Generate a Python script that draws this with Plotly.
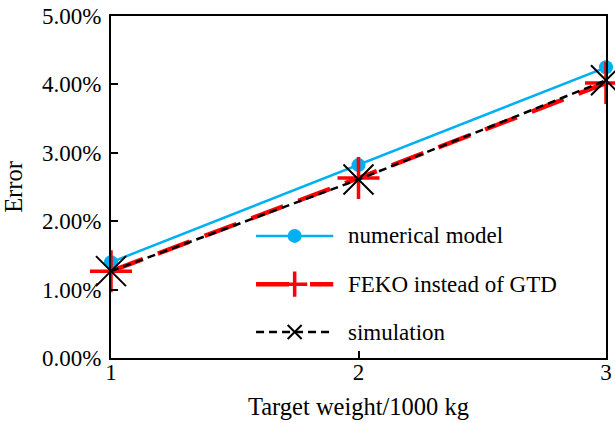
import plotly.graph_objects as go

weights = [1, 2, 3]
numerical_model = [1.40, 2.82, 4.25]
feko = [1.27, 2.63, 4.02]
simulation = [1.27, 2.61, 4.06]
y_ticks = [0, 1, 2, 3, 4, 5]
y_ticktext = ["0.00%", "1.00%", "2.00%", "3.00%", "4.00%", "5.00%"]
series_names = ["numerical model", "FEKO instead of GTD", "simulation"]

FONT = "Liberation Serif, Times New Roman, serif"
FS_TICK = 23
FS_TITLE = 24.5
FS_LEG = 23
CYAN = "#00B0F0"
RED = "#FF0000"
BLACK = "#000000"

fig = go.Figure()

fig.add_trace(go.Scatter(x=weights, y=numerical_model, mode="lines+markers",
                         line=dict(color=CYAN, width=2.5),
                         marker=dict(symbol="circle", size=14, color=CYAN),
                         cliponaxis=False, showlegend=False, name=series_names[0]))
fig.add_trace(go.Scatter(x=weights, y=feko, mode="lines+markers",
                         line=dict(color=RED, width=4.5, dash="34px,16px"),
                         marker=dict(symbol="cross-thin", size=30, line=dict(color=RED, width=3.5)),
                         cliponaxis=False, showlegend=False, name=series_names[1]))
fig.add_trace(go.Scatter(x=weights, y=simulation, mode="lines+markers",
                         line=dict(color=BLACK, width=2.5, dash="8px,5px"),
                         marker=dict(symbol="x-thin", size=30, line=dict(color=BLACK, width=2)),
                         cliponaxis=False, showlegend=False, name=series_names[2]))

# Manual legend drawn on a hidden overlay axis (0..1 over the plot area)
leg_rows = [0.357, 0.216, 0.076]
leg_x0, leg_xm, leg_x1 = 0.293, 0.371, 0.449
leg_styles = [
    (dict(color=CYAN, width=2.5), dict(symbol="circle", size=14, color=CYAN)),
    (dict(color=RED, width=4.5, dash="33px,21px"), dict(symbol="cross-thin", size=18, line=dict(color=RED, width=3.5))),
    (dict(color=BLACK, width=2.5, dash="8px,5px"), dict(symbol="x-thin", size=14, line=dict(color=BLACK, width=2))),
]
for name, yrow, (ln, mk) in zip(series_names, leg_rows, leg_styles):
    fig.add_trace(go.Scatter(x=[leg_x0, leg_x1], y=[yrow, yrow], mode="lines", line=ln,
                             xaxis="x2", yaxis="y2", showlegend=False, hoverinfo="skip"))
    fig.add_trace(go.Scatter(x=[leg_xm], y=[yrow], mode="markers", marker=mk,
                             xaxis="x2", yaxis="y2", showlegend=False, hoverinfo="skip"))
    fig.add_annotation(x=0.475, y=yrow, xref="x2", yref="y2", text=name, showarrow=False,
                       xanchor="left", yanchor="middle", font=dict(family=FONT, size=FS_LEG, color="black"))

axis_common = dict(showline=True, linecolor="black", linewidth=2, mirror=True,
                   ticks="inside", ticklen=7, tickwidth=1.5, tickcolor="black",
                   showgrid=False, zeroline=False, ticklabeloverflow="allow",
                   tickfont=dict(family=FONT, size=FS_TICK, color="black"))

fig.update_layout(
    width=615, height=423,
    margin=dict(l=111, r=3, t=16, b=65),
    paper_bgcolor="white", plot_bgcolor="white",
    font=dict(family=FONT, size=FS_TICK, color="black"),
    xaxis=dict(range=[1, 3], tickvals=weights, ticktext=[str(w) for w in weights],
               ticklabelstandoff=-8,
               title=dict(text="Target weight/1000 kg", font=dict(family=FONT, size=FS_TITLE), standoff=14),
               **axis_common),
    yaxis=dict(range=[0, 5], tickvals=y_ticks, ticktext=y_ticktext,
               ticklabelstandoff=3,
               title=dict(text="Error", font=dict(family=FONT, size=FS_TITLE), standoff=12),
               **axis_common),
    xaxis2=dict(overlaying="x", range=[0, 1], visible=False),
    yaxis2=dict(overlaying="y", range=[0, 1], visible=False),
    showlegend=False,
)

fig.write_html("out.html")
